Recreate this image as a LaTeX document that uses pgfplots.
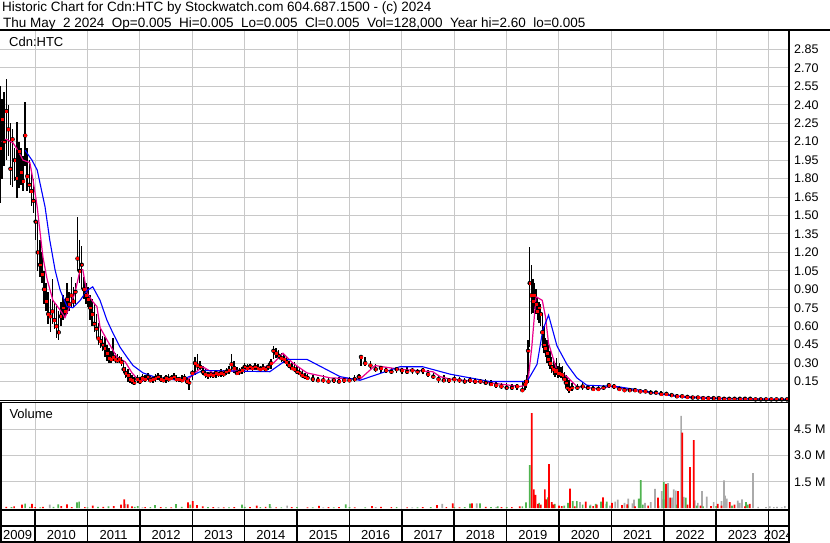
\documentclass[border=0pt]{standalone}
\usepackage{fontspec}
\setmainfont{Liberation Sans}
\usepackage{pgfplots}
\usepackage{pgfplotstable}
\pgfplotsset{compat=1.18}
\definecolor{gridgray}{RGB}{200,200,200}
\definecolor{volgreen}{RGB}{80,180,80}
\definecolor{volgray}{RGB}{170,170,170}

% daily bars, sampled: time (years), high, low, close
\pgfplotstableread{
t h l c
2009.33 2.55 1.60 2.05
2009.37 2.45 1.80 2.28
2009.41 2.50 1.90 2.10
2009.45 2.61 1.95 2.35
2009.49 2.40 1.98 2.20
2009.53 2.25 1.75 1.88
2009.57 2.20 1.73 2.12
2009.61 2.05 1.78 1.95
2009.65 2.26 1.64 1.80
2009.69 2.10 1.72 2.02
2009.73 2.05 1.75 1.85
2009.77 1.98 1.70 1.78
2009.81 2.42 1.90 2.15
2009.85 2.05 1.70 1.82
2009.89 1.95 1.68 1.75
2009.93 1.85 1.58 1.70
2009.97 1.80 1.52 1.62
2010.01 1.62 1.30 1.45
2010.05 1.45 1.05 1.20
2010.09 1.30 1.00 1.10
2010.13 1.20 0.95 1.02
2010.17 1.05 0.78 0.90
2010.21 0.95 0.72 0.80
2010.25 0.88 0.62 0.70
2010.29 0.82 0.55 0.68
2010.33 0.98 0.62 0.72
2010.37 0.80 0.58 0.65
2010.41 0.78 0.50 0.60
2010.45 0.72 0.49 0.55
2010.49 0.80 0.60 0.68
2010.53 0.85 0.65 0.75
2010.57 0.82 0.68 0.72
2010.61 0.95 0.70 0.82
2010.65 0.88 0.72 0.78
2010.69 1.00 0.75 0.85
2010.73 0.92 0.76 0.80
2010.77 0.95 0.78 0.88
2010.81 1.49 1.05 1.15
2010.85 1.30 0.95 1.05
2010.89 1.25 0.90 1.10
2010.93 1.00 0.82 0.90
2010.97 0.95 0.78 0.85
2011.01 0.92 0.76 0.82
2011.05 0.85 0.65 0.75
2011.09 0.82 0.60 0.70
2011.13 0.78 0.55 0.62
2011.17 0.70 0.50 0.58
2011.21 0.63 0.45 0.50
2011.25 0.58 0.42 0.48
2011.29 0.52 0.40 0.45
2011.33 0.51 0.35 0.42
2011.37 0.45 0.32 0.38
2011.41 0.42 0.30 0.34
2011.45 0.40 0.30 0.33
2011.49 0.50 0.32 0.35
2011.53 0.38 0.30 0.33
2011.57 0.37 0.30 0.32
2011.61 0.36 0.30 0.33
2011.65 0.35 0.28 0.31
2011.69 0.30 0.22 0.25
2011.73 0.27 0.18 0.22
2011.77 0.25 0.15 0.20
2011.81 0.22 0.14 0.17
2011.85 0.20 0.13 0.16
2011.89 0.19 0.12 0.14
2011.95 0.20 0.14 0.17
2012.00 0.19 0.13 0.15
2012.05 0.21 0.15 0.18
2012.10 0.20 0.15 0.17
2012.15 0.22 0.16 0.19
2012.20 0.20 0.15 0.16
2012.25 0.19 0.14 0.17
2012.30 0.21 0.15 0.18
2012.35 0.22 0.16 0.19
2012.40 0.20 0.15 0.17
2012.45 0.19 0.15 0.16
2012.50 0.20 0.14 0.18
2012.55 0.21 0.15 0.17
2012.60 0.20 0.16 0.18
2012.65 0.22 0.16 0.19
2012.70 0.20 0.15 0.17
2012.75 0.19 0.15 0.17
2012.80 0.20 0.15 0.16
2012.85 0.21 0.16 0.18
2012.90 0.19 0.13 0.15
2012.94 0.17 0.08 0.14
2013.00 0.24 0.16 0.22
2013.05 0.35 0.20 0.30
2013.10 0.37 0.24 0.28
2013.15 0.32 0.24 0.27
2013.20 0.28 0.20 0.23
2013.25 0.25 0.18 0.21
2013.30 0.23 0.17 0.20
2013.35 0.24 0.18 0.21
2013.40 0.23 0.18 0.20
2013.45 0.24 0.18 0.22
2013.50 0.23 0.19 0.21
2013.55 0.25 0.19 0.22
2013.60 0.24 0.19 0.21
2013.65 0.26 0.20 0.23
2013.70 0.28 0.21 0.24
2013.75 0.37 0.24 0.29
2013.80 0.32 0.22 0.26
2013.85 0.27 0.20 0.22
2013.90 0.26 0.20 0.23
2013.95 0.27 0.21 0.24
2014.00 0.30 0.22 0.27
2014.05 0.29 0.23 0.26
2014.10 0.29 0.24 0.27
2014.15 0.28 0.23 0.26
2014.20 0.30 0.24 0.27
2014.25 0.29 0.24 0.26
2014.30 0.28 0.23 0.25
2014.35 0.29 0.24 0.26
2014.40 0.28 0.23 0.25
2014.45 0.30 0.24 0.27
2014.50 0.33 0.25 0.30
2014.55 0.44 0.33 0.40
2014.60 0.42 0.34 0.38
2014.65 0.41 0.33 0.36
2014.70 0.38 0.31 0.34
2014.75 0.37 0.30 0.33
2014.80 0.36 0.28 0.31
2014.85 0.32 0.26 0.28
2014.90 0.30 0.24 0.26
2014.95 0.31 0.23 0.25
2015.00 0.28 0.21 0.23
2015.05 0.26 0.20 0.22
2015.10 0.24 0.18 0.20
2015.15 0.22 0.17 0.19
2015.20 0.21 0.16 0.18
2015.30 0.20 0.15 0.17
2015.40 0.19 0.15 0.16
2015.50 0.20 0.14 0.16
2015.60 0.19 0.14 0.15
2015.70 0.18 0.14 0.16
2015.80 0.19 0.14 0.15
2015.90 0.18 0.14 0.16
2016.00 0.19 0.15 0.16
2016.10 0.20 0.15 0.17
2016.18 0.21 0.16 0.19
2016.22 0.36 0.28 0.35
2016.30 0.35 0.28 0.30
2016.40 0.32 0.25 0.28
2016.50 0.29 0.23 0.25
2016.60 0.28 0.22 0.26
2016.70 0.27 0.22 0.24
2016.80 0.26 0.21 0.23
2016.90 0.27 0.22 0.25
2017.00 0.26 0.21 0.24
2017.10 0.27 0.21 0.23
2017.20 0.26 0.21 0.24
2017.30 0.25 0.20 0.23
2017.40 0.26 0.21 0.24
2017.50 0.24 0.19 0.21
2017.60 0.22 0.17 0.19
2017.70 0.20 0.14 0.17
2017.80 0.20 0.15 0.16
2017.90 0.18 0.14 0.16
2018.00 0.20 0.14 0.17
2018.10 0.19 0.14 0.16
2018.20 0.18 0.13 0.15
2018.30 0.19 0.14 0.16
2018.40 0.18 0.13 0.15
2018.50 0.17 0.13 0.15
2018.60 0.17 0.12 0.14
2018.70 0.16 0.11 0.13
2018.80 0.15 0.10 0.12
2018.90 0.14 0.09 0.11
2019.00 0.14 0.08 0.10
2019.10 0.13 0.08 0.10
2019.20 0.13 0.08 0.11
2019.30 0.15 0.07 0.08
2019.35 0.16 0.08 0.13
2019.38 0.20 0.10 0.15
2019.41 0.49 0.14 0.40
2019.44 1.24 0.43 0.95
2019.47 1.10 0.70 0.85
2019.50 0.98 0.71 0.80
2019.53 0.95 0.74 0.85
2019.56 0.90 0.70 0.78
2019.59 0.84 0.65 0.72
2019.62 0.80 0.63 0.75
2019.65 0.78 0.60 0.70
2019.68 0.71 0.42 0.55
2019.71 0.60 0.38 0.45
2019.74 0.50 0.35 0.42
2019.77 0.49 0.30 0.38
2019.80 0.45 0.28 0.33
2019.83 0.40 0.25 0.30
2019.86 0.35 0.22 0.27
2019.89 0.32 0.20 0.25
2019.92 0.30 0.19 0.23
2019.95 0.34 0.20 0.24
2019.98 0.28 0.18 0.22
2020.01 0.30 0.19 0.22
2020.04 0.27 0.18 0.21
2020.07 0.28 0.17 0.20
2020.10 0.23 0.14 0.17
2020.13 0.20 0.10 0.14
2020.16 0.18 0.07 0.10
2020.19 0.16 0.06 0.09
2020.25 0.14 0.07 0.10
2020.35 0.13 0.08 0.10
2020.45 0.15 0.08 0.11
2020.55 0.12 0.08 0.10
2020.65 0.12 0.08 0.09
2020.75 0.11 0.07 0.09
2020.85 0.12 0.08 0.10
2020.95 0.14 0.10 0.12
2021.05 0.13 0.09 0.11
2021.15 0.11 0.08 0.09
2021.25 0.10 0.07 0.08
2021.35 0.09 0.07 0.08
2021.45 0.10 0.07 0.08
2021.55 0.09 0.06 0.07
2021.65 0.08 0.06 0.07
2021.75 0.08 0.05 0.06
2021.85 0.07 0.05 0.06
2021.95 0.07 0.04 0.05
2022.05 0.06 0.04 0.05
2022.15 0.05 0.03 0.04
2022.25 0.05 0.02 0.03
2022.35 0.04 0.02 0.03
2022.45 0.04 0.015 0.025
2022.55 0.03 0.015 0.02
2022.65 0.03 0.01 0.02
2022.75 0.025 0.01 0.015
2022.85 0.025 0.01 0.015
2022.95 0.02 0.01 0.015
2023.05 0.02 0.01 0.015
2023.15 0.02 0.005 0.01
2023.25 0.02 0.005 0.01
2023.35 0.015 0.005 0.01
2023.45 0.015 0.005 0.01
2023.55 0.015 0.005 0.01
2023.65 0.01 0.005 0.01
2023.75 0.01 0.005 0.005
2023.85 0.01 0.005 0.005
2023.95 0.01 0.005 0.005
2024.05 0.01 0.005 0.005
2024.15 0.01 0.005 0.005
2024.25 0.01 0.005 0.005
2024.35 0.005 0.005 0.005
}\price

% short moving average (magenta)
\pgfplotstableread{
t v
2009.36 2.10
2009.45 2.12
2009.58 2.09
2009.67 2.03
2009.77 1.95
2009.90 1.93
2009.96 1.79
2010.04 1.57
2010.09 1.38
2010.15 1.16
2010.23 0.98
2010.34 0.81
2010.48 0.73
2010.57 0.67
2010.63 0.73
2010.76 0.87
2010.86 1.06
2010.91 1.06
2010.99 0.87
2011.10 0.80
2011.18 0.76
2011.24 0.59
2011.37 0.49
2011.56 0.35
2011.72 0.31
2011.85 0.22
2012.00 0.15
2012.19 0.18
2012.90 0.16
2013.05 0.22
2013.20 0.27
2013.40 0.22
2013.85 0.24
2014.35 0.26
2014.55 0.30
2014.73 0.38
2014.92 0.30
2015.19 0.22
2015.63 0.18
2016.20 0.17
2016.49 0.28
2016.64 0.27
2016.96 0.25
2017.59 0.23
2017.73 0.19
2017.92 0.17
2018.68 0.14
2019.25 0.11
2019.38 0.12
2019.42 0.20
2019.48 0.43
2019.56 0.84
2019.68 0.81
2019.74 0.68
2019.80 0.46
2019.96 0.24
2020.15 0.19
2020.34 0.11
2020.78 0.09
2020.97 0.11
2021.54 0.07
2022.36 0.03
2023.07 0.015
2024.37 0.005
}\fastma

% long moving average (blue)
\pgfplotstableread{
t v
2009.81 2.03
2009.94 1.95
2010.04 1.87
2010.09 1.77
2010.19 1.57
2010.28 1.30
2010.38 1.06
2010.48 0.89
2010.61 0.76
2010.72 0.75
2010.86 0.81
2010.99 0.89
2011.10 0.92
2011.24 0.81
2011.37 0.65
2011.49 0.54
2011.62 0.43
2011.75 0.35
2011.87 0.28
2012.06 0.22
2012.33 0.18
2012.77 0.16
2013.00 0.20
2013.20 0.24
2014.48 0.23
2014.81 0.33
2015.19 0.33
2015.82 0.19
2016.20 0.16
2016.96 0.27
2017.40 0.27
2017.92 0.21
2018.68 0.15
2019.39 0.15
2019.58 0.29
2019.69 0.57
2019.80 0.69
2019.96 0.44
2020.15 0.29
2020.34 0.18
2020.53 0.12
2021.10 0.11
2021.54 0.08
2022.06 0.04
2022.44 0.02
2023.07 0.01
2024.37 0.005
}\slowma

% volume, millions of shares
\pgfplotstableread{
t v
2009.75 0.20
2009.94 0.25
2010.61 0.22
2011.10 0.15
2011.64 0.20
2011.70 0.50
2011.77 0.22
2012.92 0.34
2013.01 0.40
2013.09 0.18
2014.23 0.15
2015.42 0.14
2016.43 0.12
2017.67 0.18
2017.97 0.28
2018.34 0.28
2019.48 5.40
2019.52 1.07
2019.55 0.76
2019.73 1.07
2019.76 0.50
2019.81 2.50
2019.86 0.35
2020.21 1.12
2020.51 0.38
2020.84 0.62
2021.01 0.30
2021.30 0.22
2021.89 0.60
2022.04 1.39
2022.12 0.60
2022.27 0.97
2022.35 4.29
2022.50 2.34
2022.57 3.87
2023.03 0.25
2023.26 0.35
2023.64 0.25
2009.45 0.08
2009.60 0.10
2010.00 0.06
2010.15 0.08
2010.50 0.12
2010.70 0.07
2010.95 0.06
2011.30 0.08
2011.50 0.12
2011.85 0.10
2012.10 0.06
2012.40 0.07
2012.60 0.05
2013.20 0.10
2013.40 0.06
2013.60 0.05
2013.80 0.07
2014.10 0.06
2014.40 0.08
2014.60 0.05
2014.90 0.06
2015.20 0.05
2015.60 0.06
2015.80 0.07
2016.10 0.05
2016.60 0.08
2016.80 0.06
2017.10 0.05
2017.40 0.06
2017.85 0.07
2018.10 0.05
2018.60 0.08
2018.90 0.07
2019.10 0.06
2019.25 0.10
2019.60 0.25
2019.65 0.20
2019.90 0.20
2020.00 0.15
2020.05 0.12
2020.30 0.10
2020.65 0.12
2020.72 0.20
2021.20 0.18
2021.45 0.10
2021.70 0.15
2022.45 0.20
2022.70 0.15
2022.90 0.12
2023.10 0.15
2023.35 0.20
2023.55 0.10
}\voldown

\pgfplotstableread{
t v
2009.35 0.87
2009.81 0.26
2010.44 0.22
2010.80 0.34
2010.84 0.38
2011.96 0.12
2012.29 0.18
2012.69 0.24
2012.96 0.20
2013.95 0.20
2014.48 0.24
2015.93 0.22
2018.30 0.26
2018.49 0.28
2018.83 0.10
2019.37 0.33
2019.44 2.45
2019.54 0.28
2019.79 0.62
2019.92 0.25
2020.17 0.30
2020.26 0.40
2020.34 0.40
2020.59 0.15
2020.80 0.38
2020.91 0.38
2021.31 0.15
2021.52 0.55
2021.56 1.60
2022.00 1.50
2022.42 0.60
2022.63 0.15
2023.57 0.35
2009.55 0.06
2009.90 0.08
2010.10 0.05
2010.35 0.08
2011.00 0.05
2011.20 0.08
2011.40 0.10
2011.90 0.08
2012.20 0.06
2012.50 0.05
2012.80 0.08
2013.30 0.06
2013.70 0.05
2014.00 0.08
2014.30 0.06
2014.70 0.05
2015.00 0.06
2015.30 0.05
2015.70 0.05
2016.00 0.06
2016.30 0.05
2016.90 0.06
2017.30 0.05
2017.55 0.06
2018.00 0.06
2018.20 0.07
2018.70 0.06
2019.00 0.07
2019.30 0.10
2019.62 0.30
2019.88 0.20
2020.10 0.15
2020.45 0.20
2020.70 0.25
2021.00 0.15
2021.20 0.12
2021.60 0.20
2021.90 0.15
2022.25 0.20
2022.75 0.10
2023.00 0.12
2023.30 0.15
2023.60 0.20
}\volup

\pgfplotstableread{
t v
2010.28 0.20
2011.72 0.25
2014.81 0.15
2017.77 0.25
2018.43 0.28
2020.40 0.35
2020.97 0.15
2021.07 0.38
2021.12 0.49
2021.32 0.55
2021.43 0.49
2021.64 0.30
2021.83 1.10
2021.96 0.97
2022.08 1.43
2022.19 1.07
2022.23 1.00
2022.33 5.25
2022.38 0.65
2022.59 0.45
2022.73 0.97
2022.82 0.66
2023.15 1.58
2023.17 0.72
2023.20 0.55
2023.41 0.43
2023.49 0.50
2023.70 2.00
2024.02 0.10
2024.16 0.08
2024.31 0.12
2012.05 0.05
2013.50 0.06
2014.50 0.08
2015.50 0.05
2016.50 0.06
2017.20 0.05
2018.80 0.06
2020.60 0.20
2020.90 0.25
2021.25 0.30
2021.40 0.28
2021.75 0.35
2022.00 0.50
2022.15 0.60
2022.65 0.30
2022.95 0.35
2023.10 0.40
2023.45 0.30
2023.80 0.08
2023.95 0.06
2024.10 0.07
2024.25 0.05
}\volflat

\pgfplotsset{
  chartbase/.style={
    scale only axis, width=788pt,
    at={(0pt,0pt)}, anchor=south west,
    xmin=2009.33, xmax=2024.37,
    xtick={2010,...,2024}, xticklabel=\empty,
    axis line style={draw=none}, major tick length=0pt,
    grid style={gridgray, line width=1pt},
    yticklabel pos=right,
    yticklabel style={font=\fontsize{12.5}{14}\selectfont, anchor=west, inner sep=0pt, xshift=6pt},
    /pgf/number format/assume math mode=true,
  },
}

\begin{document}
\begin{tikzpicture}[x=1pt, y=1pt]
\path[use as bounding box] (0,0) rectangle (830,543);

% price panel
\begin{scope}[shift={(0pt,143pt)}]
\begin{axis}[chartbase, height=369pt,
  ymin=0, ymax=3.0, ytick={0.15,0.30,...,2.86}, grid=major,
  yticklabel style={/pgf/number format/.cd, fixed, fixed zerofill, precision=2}]
\addplot[only marks, mark=none, black,
  error bars/.cd, y dir=both, y explicit, error mark=none,
  error bar style={black, line width=1.5pt}]
  table[x=t, y=c, y error plus expr=\thisrow{h}-\thisrow{c}, y error minus expr=\thisrow{c}-\thisrow{l}] {\price};
\addplot[only marks, mark=square*, mark size=0.9pt, red, mark options={draw=none, fill=red}]
  table[x=t, y=c] {\price};
\addplot[magenta, line width=1.2pt] table[x=t, y=v] {\fastma};
\addplot[blue, line width=1.1pt] table[x=t, y=v] {\slowma};
\end{axis}
\end{scope}

% volume panel
\begin{scope}[shift={(0pt,33pt)}]
\begin{axis}[chartbase, height=107pt,
  ymin=-0.1, ymax=5.98, ytick={1.5,3,4.5}, yticklabels={1.5 M,3.0 M,4.5 M}, grid=major]
\addplot[ybar, bar width=1.7pt, fill=volgray, draw=none] table[x=t, y=v] {\volflat};
\addplot[ybar, bar width=1.7pt, fill=volgreen, draw=none] table[x=t, y=v] {\volup};
\addplot[ybar, bar width=1.7pt, fill=red, draw=none] table[x=t, y=v] {\voldown};
\end{axis}
\end{scope}

% year strip
\begin{scope}[shift={(0pt,1pt)}]
\begin{axis}[chartbase, height=32pt,
  ymin=0, ymax=32, ytick=\empty, xmajorgrids, grid style={black, line width=1.5pt}]
\foreach \yr/\pos in {2009/2009.665, 2010/2010.5, 2011/2011.5, 2012/2012.5, 2013/2013.5,
  2014/2014.5, 2015/2015.5, 2016/2016.5, 2017/2017.5, 2018/2018.5, 2019/2019.5,
  2020/2020.5, 2021/2021.5, 2022/2022.5, 2023/2023.5, 2024/2024.185}{
  \edef\tmp{\noexpand\node[anchor=base, font=\noexpand\fontsize{13}{14}\noexpand\selectfont, inner sep=0pt] at (axis cs:\pos,2) {\yr};}\tmp
}
\end{axis}
\end{scope}

% frame
\draw[line width=2pt] (0,512.5) -- (830,512.5);
\draw[line width=2.5pt] (789.2,0) -- (789.2,513.5);
\draw[line width=1pt] (0,142) -- (789,142);
\draw[line width=1pt] (0,140) -- (789,140);
\draw[line width=2pt] (0,33.2) -- (789,33.2);
\draw[line width=2pt] (0,16.5) -- (789,16.5);
\draw[line width=2pt] (0,1) -- (789,1);
\draw[line width=1.5pt] (0.75,0) -- (0.75,141);

% texts
\begin{scope}[every node/.style={anchor=base west, inner sep=0pt}]
\node[font=\fontsize{13.5}{15}\selectfont] at (2,531) {Historic Chart for Cdn:HTC by Stockwatch.com 604.687.1500 - (c) 2024};
\node[font=\fontsize{13.5}{15}\selectfont] at (3,515.7) {Thu May~ 2 2024~ Op=0.005~ Hi=0.005~ Lo=0.005~ Cl=0.005~ Vol=128,000~ Year hi=2.60~ lo=0.005};
\node[font=\fontsize{13}{14}\selectfont] at (9,496.5) {Cdn:HTC};
\node[font=\fontsize{13}{14}\selectfont] at (9.3,124.7) {Volume};
\end{scope}
\end{tikzpicture}
\end{document}
